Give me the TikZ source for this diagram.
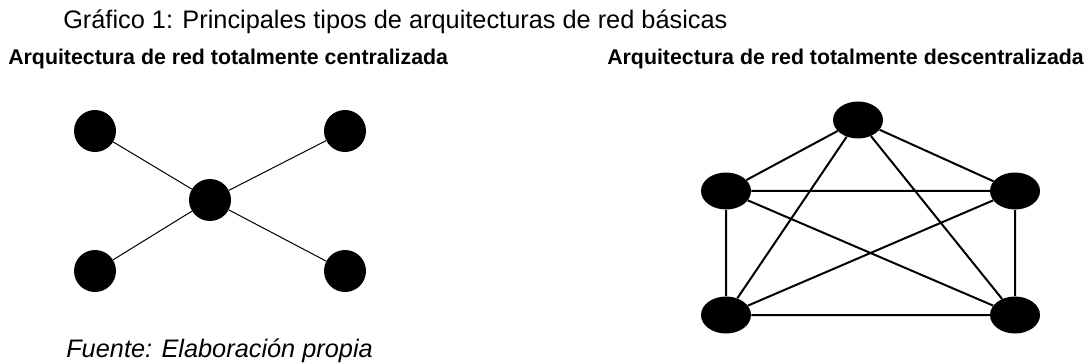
\documentclass[tikz,border=0pt]{standalone}
\usepackage{fontspec}
\setmainfont{Liberation Sans}
\usetikzlibrary{shapes.geometric}
\begin{document}
\begin{tikzpicture}[x=0.75pt,y=-0.75pt,
		nodo/.style={circle,fill=black,inner sep=0pt,minimum size=31.5pt},
		nodoe/.style={ellipse,fill=black,inner sep=0pt,minimum width=37.5pt,minimum height=27.75pt},
		titulo/.style={anchor=base west,inner sep=0pt,font=\fontsize{19}{23}\selectfont},
		subtitulo/.style={anchor=base west,inner sep=0pt,font=\fontsize{16}{19}\selectfont\bfseries}]
		\useasboundingbox (0,0) rectangle (1087,363);
		\node[titulo] (titulo) at (63,29) {Gráfico 1: Principales tipos de arquitecturas de red básicas};
		\node[subtitulo] (subizq) at (8,65) {Arquitectura de red totalmente centralizada};
		\node[subtitulo] (subder) at (607,65) {Arquitectura de red totalmente descentralizada};
		\node[titulo,font=\fontsize{19}{23}\selectfont\itshape] (fuente) at (66,357) {Fuente: Elaboración propia};
		% red centralizada
		\node[nodo] (c) at (210,200) {};
		\node[nodo] (a1) at (95,131) {};
		\node[nodo] (a2) at (345,131) {};
		\node[nodo] (a3) at (95,271) {};
		\node[nodo] (a4) at (345,271) {};
		\draw[line width=0.75pt] (c)--(a1) (c)--(a2) (c)--(a3) (c)--(a4);
		% red descentralizada
		\node[nodoe] (b1) at (858,120) {};
		\node[nodoe] (b2) at (726,191) {};
		\node[nodoe] (b3) at (1015,191) {};
		\node[nodoe] (b4) at (726,315) {};
		\node[nodoe] (b5) at (1015,315) {};
		\draw[line width=1.5pt] 
				(b1)--(b2) (b1)--(b3) (b1)--(b4) (b1)--(b5)
				(b2)--(b3) (b2)--(b4) (b2)--(b5)
				(b3)--(b4) (b3)--(b5)
				(b4)--(b5);
	\end{tikzpicture}
\end{document}
